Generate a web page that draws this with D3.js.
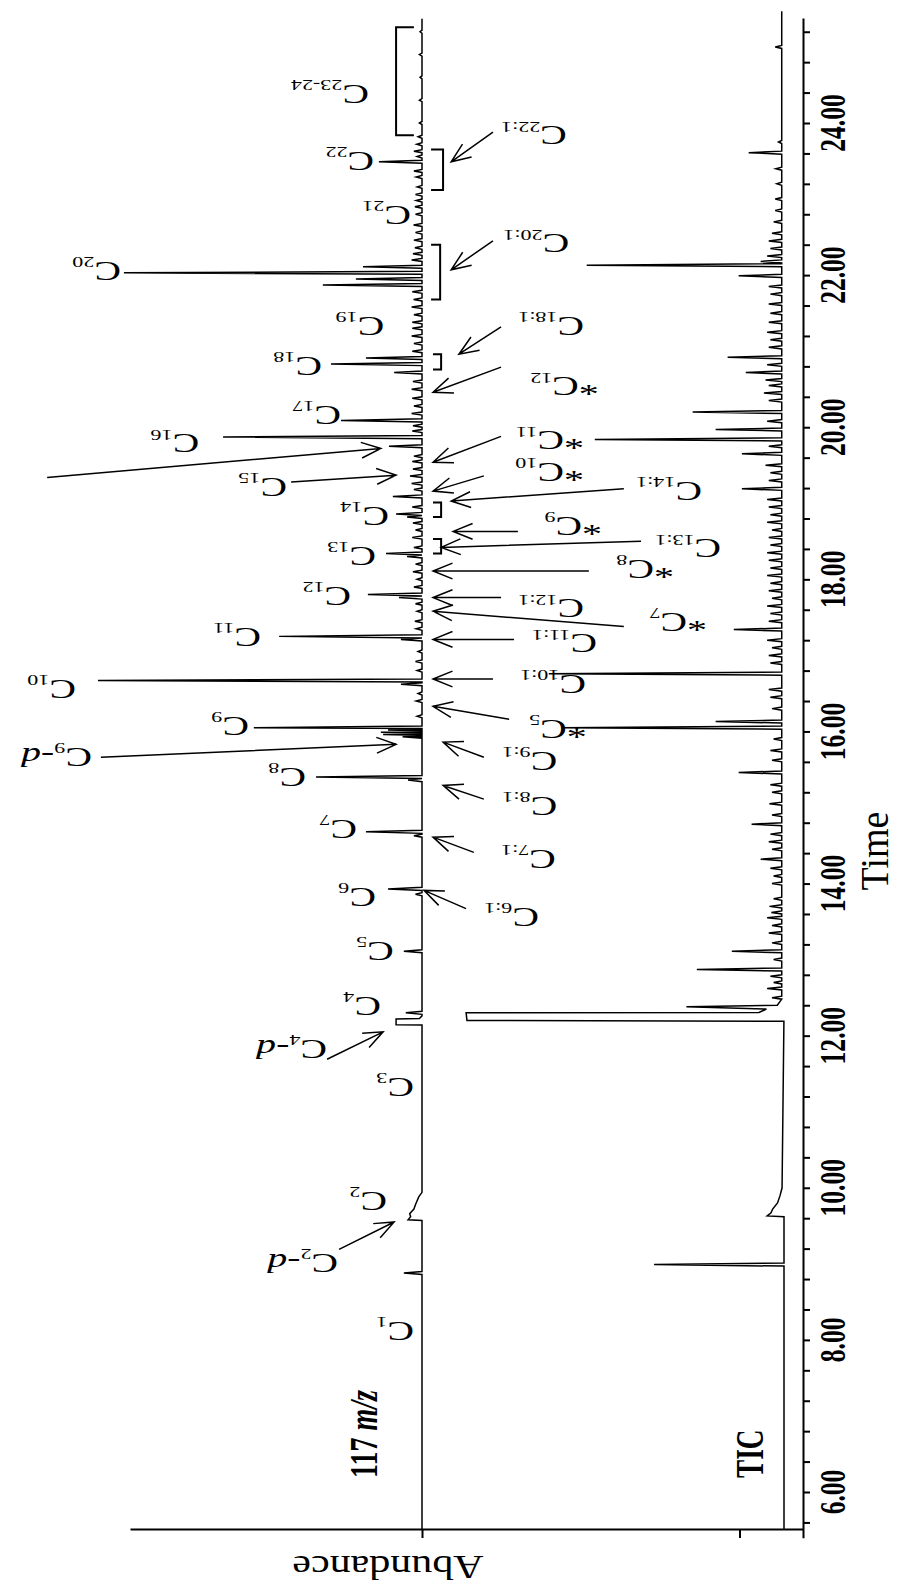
<!DOCTYPE html>
<html>
<head>
<meta charset="utf-8">
<script src="https://cdn.jsdelivr.net/npm/d3@7"></script>
<style>
body { margin: 0; background: #fff; }
svg { display: block; }
</style>
</head>
<body>
<svg id="svg" width="897" height="1587"></svg>
<script>
// peaks: [retention time (min), relative abundance]
const peaks117 = [
    [8.88, 5.6],
    [12.30, 5.0],
    [13.11, 5.6],
    [13.86, 2.0], [13.93, 10.5],
    [14.63, 2.5], [14.68, 17.3],
    [15.36, 4.3], [15.40, 32.7],
    [15.93, 6.0], [15.96, 12.0], [15.99, 12.7], [16.02, 10.5], [16.05, 51.9],
    [16.62, 6.5], [16.67, 100],
    [17.21, 6.5], [17.25, 44.1],
    [17.76, 7.1], [17.80, 16.7],
    [18.30, 4.6], [18.34, 11.1],
    [18.82, 4.6], [18.86, 8.0],
    [19.09, 9.0], [19.36, 3.7],
    [19.75, 10.2], [19.87, 61.4],
    [20.09, 25.0],
    [20.72, 8.6], [20.83, 28.1], [20.91, 17.3],
    [21.30, 3.0],
    [21.87, 30.6], [21.95, 20.4], [22.03, 92.0], [22.11, 18.2],
    [22.80, 2.0],
    [23.29, 1.8], [23.37, 2.5], [23.49, 13.3], [23.63, 2.5]
]
const noise117 = [
    [15.95, 1.2], [16.20, 1.5], [16.40, 1.8], [16.50, 1.2], [16.80, 1.5], [16.92, 2.0], [17.05, 1.2],
    [17.35, 1.8], [17.45, 2.2], [17.58, 1.5], [17.68, 2.0], [17.90, 2.5], [18.00, 1.5], [18.10, 2.8],
    [18.20, 2.0], [18.42, 2.5], [18.55, 3.0], [18.65, 2.0], [18.74, 2.8], [18.95, 3.0], [19.18, 2.5],
    [19.26, 3.2], [19.45, 2.8], [19.55, 3.0], [19.62, 2.5], [19.95, 3.0], [20.02, 2.8], [20.18, 3.2],
    [20.28, 2.5], [20.38, 3.0], [20.50, 3.2], [20.60, 2.8], [21.00, 3.0], [21.10, 2.5], [21.20, 3.2],
    [21.38, 3.0], [21.48, 2.5], [21.58, 3.2], [21.68, 2.6], [21.78, 3.0], [22.20, 3.2], [22.28, 2.8],
    [22.36, 2.2], [22.46, 2.5], [22.56, 2.0], [22.66, 2.6], [22.90, 2.2], [22.98, 1.8], [23.06, 2.0],
    [23.16, 1.5], [23.56, 1.5], [23.72, 1.6], [23.82, 1.2], [24.00, 0.8], [24.30, 0.8], [24.60, 0.6],
    [24.90, 0.8], [25.20, 0.6]
]
// flat-topped / broad features: points [time, abundance]
const shapes117 = [
    [[9.57, 0], [9.58, 4.3], [9.62, 3.5], [9.66, 3.8], [9.72, 2.5], [9.78, 2.0], [9.88, 1.0], [9.94, 0]],
    [[12.14, 0], [12.145, 8.0], [12.22, 8.0], [12.225, 0.8], [12.26, 0]]
]

const peaksTIC = [
    [8.99, 40.1],
    [12.87, 26.2], [13.11, 15.4],
    [14.32, 6.5], [14.78, 9.3], [15.46, 13.3],
    [16.05, 67.9], [16.13, 20.4],
    [16.76, 71.9], [17.34, 14.8],
    [19.19, 12.3], [19.65, 12.3], [19.84, 57.7], [19.97, 20.4], [20.20, 27.5],
    [20.72, 11.1], [20.92, 16.7],
    [21.99, 13.3], [22.13, 60.2], [22.18, 6.5],
    [23.61, 10.2], [25.00, 2.0]
]
const noiseTIC = [
    [12.50, 3.0], [12.62, 4.5], [12.70, 2.5], [12.78, 3.5], [13.00, 2.5], [13.22, 3.0], [13.35, 4.0],
    [13.45, 3.0], [13.55, 4.5], [13.62, 3.2], [13.70, 3.8], [13.80, 2.5], [14.00, 3.0], [14.10, 2.5],
    [14.20, 3.5], [14.45, 3.0], [14.55, 4.0], [14.65, 3.5], [14.90, 3.0], [15.05, 3.8], [15.20, 3.0],
    [15.30, 3.5], [15.62, 3.0], [15.75, 3.5], [15.90, 2.5], [16.30, 3.0], [16.45, 3.5], [16.55, 4.0],
    [16.90, 3.5], [17.00, 4.0], [17.10, 3.0], [17.20, 4.5], [17.45, 4.0], [17.55, 3.5], [17.65, 4.5],
    [17.75, 3.0], [17.85, 4.0], [17.95, 3.5], [18.05, 4.5], [18.15, 3.5], [18.25, 4.0], [18.35, 4.5],
    [18.45, 3.5], [18.55, 4.0], [18.65, 3.0], [18.75, 4.5], [18.85, 3.5], [18.95, 4.0], [19.05, 4.5],
    [19.30, 4.0], [19.40, 3.5], [19.50, 5.0], [19.75, 4.0], [20.08, 4.5], [20.35, 4.0], [20.45, 5.5],
    [20.55, 4.0], [20.62, 5.0], [20.82, 4.5], [21.05, 4.0], [21.15, 3.5], [21.25, 4.5], [21.38, 4.0],
    [21.50, 3.5], [21.62, 4.0], [21.75, 3.5], [21.85, 4.0], [22.25, 4.5], [22.35, 3.5], [22.45, 4.0],
    [22.55, 3.0], [22.70, 2.5], [22.85, 2.0], [23.00, 2.0], [23.20, 1.5], [23.40, 1.8], [23.75, 1.0]
]
const shapesTIC = [
    [[9.62, 0], [9.63, 5.2], [9.67, 4.0], [9.72, 3.5], [9.80, 2.0], [9.90, 1.2], [10.0, 0.6]],
    [[12.19, 0], [12.20, 97.8], [12.30, 97.8], [12.305, 7.4], [12.35, 5.0], [12.38, 29.6], [12.40, 1.5]]
]
const baselineTIC = [[5.5, 0], [7.95, 0], [8.15, 0.8], [8.45, 0.5], [8.6, 0], [12.18, 0], [12.45, 0.7], [25.5, 0.7]]
const baseline117 = [[5.5, 0], [25.5, 0]]

const timeLabels = [6, 8, 10, 12, 14, 16, 18, 20, 22, 24]
const minorTicks = d3.range(14, 64).map(i => i * 0.4)
const abundanceTicks = [0, -98]

// compound labels, placed in (time, abundance of the 117 m/z trace)
const labelsLeft = [
    { t: 8.11, a: 6.5, sub: '1' }, { t: 9.82, a: 14.8, sub: '2' }, { t: 9.01, a: 29.9, sub: '2', d: true },
    { t: 11.32, a: 6.5, sub: '3' }, { t: 11.82, a: 33.3, sub: '4', d: true }, { t: 12.38, a: 16.7, sub: '4' },
    { t: 13.11, a: 12.7, sub: '5' }, { t: 13.82, a: 18.2, sub: '6' }, { t: 14.71, a: 24.1, sub: '7' },
    { t: 15.40, a: 39.8, sub: '8' }, { t: 15.66, a: 105.9, sub: '9', d: true }, { t: 16.07, a: 57.4, sub: '9' },
    { t: 16.55, a: 110.8, sub: '10' }, { t: 17.24, a: 53.7, sub: '11' }, { t: 17.78, a: 25.9, sub: '12' },
    { t: 18.30, a: 18.2, sub: '13' }, { t: 18.83, a: 14.2, sub: '14' }, { t: 19.21, a: 45.7, sub: '15' },
    { t: 19.78, a: 72.8, sub: '16' }, { t: 20.15, a: 29.0, sub: '17' }, { t: 20.80, a: 34.9, sub: '18' },
    { t: 21.33, a: 15.7, sub: '19' }, { t: 22.05, a: 96.9, sub: '20' }, { t: 22.78, a: 7.4, sub: '21' },
    { t: 23.49, a: 18.8, sub: '22' }, { t: 24.38, a: 20.4, sub: '23-24' }
]
const labelsRight = [
    { t: 23.83, a: -40.7, sub: '22:1' }, { t: 22.41, a: -41.4, sub: '20:1' }, { t: 21.33, a: -46.0, sub: '18:1' },
    { t: 20.53, a: -44.4, sub: '12', star: true }, { t: 19.82, a: -39.8, sub: '11', star: true },
    { t: 19.41, a: -39.8, sub: '10', star: true }, { t: 19.16, a: -82.4, sub: '14:1' },
    { t: 18.70, a: -45.4, sub: '9', star: true }, { t: 18.40, a: -88.3, sub: '13:1' },
    { t: 18.13, a: -67.6, sub: '8', star: true }, { t: 17.61, a: -46.0, sub: '12:1' },
    { t: 17.43, a: -77.8, sub: '7', star: true }, { t: 17.15, a: -50.0, sub: '11:1' },
    { t: 16.62, a: -46.6, sub: '10:1' }, { t: 16.03, a: -40.7, sub: '5', star: true },
    { t: 15.61, a: -37.7, sub: '9:1' }, { t: 15.01, a: -37.7, sub: '8:1' }, { t: 14.32, a: -37.3, sub: '7:1' },
    { t: 13.55, a: -32.1, sub: '6:1' }
]
// arrows: [time tail, abundance tail, time head, abundance head]
const arrows = [
    [9.19, 25.6, 9.55, 8.6], [11.69, 29.3, 12.05, 12.0], [15.66, 99.1, 15.83, 8.0],
    [19.28, 40.4, 19.37, 8.0], [19.34, 115.7, 19.72, 12.7],
    [23.88, -21.9, 23.49, -9.0], [22.45, -21.9, 22.07, -9.0], [21.32, -24.4, 20.96, -11.4],
    [20.79, -24.4, 20.46, -3.4], [19.88, -24.4, 19.54, -3.4], [19.36, -19.1, 19.16, -3.4],
    [19.19, -62.3, 19.03, -9.0], [18.63, -29.6, 18.63, -9.6], [18.50, -67.6, 18.42, -5.9],
    [18.11, -51.5, 18.11, -3.4], [17.76, -24.4, 17.76, -3.4], [17.38, -62.3, 17.58, -3.4],
    [17.21, -28.4, 17.21, -3.4], [16.69, -21.9, 16.69, -3.4], [16.16, -26.9, 16.33, -3.4],
    [15.66, -19.1, 15.86, -6.5], [15.11, -19.1, 15.29, -6.5], [14.41, -16.0, 14.61, -3.4],
    [13.67, -13.6, 13.91, -0.6]
]
// brackets: [time start, time end, abundance of the bar, abundance of the arms]
const brackets = [
    [23.65, 23.12, -6.5, -2.8], [22.40, 21.68, -5.6, -2.8], [20.96, 20.76, -5.9, -3.4],
    [19.01, 18.82, -5.9, -3.4], [18.53, 18.34, -5.9, -3.4], [25.26, 23.84, 8.0, 2.5]
]

const svg = d3.select('#svg')
const serif = "'Liberation Serif', 'Times New Roman', serif"
const W = 0.02 // half width of a peak (min)

const pxPerMin = (1492 - 123) / 18
const y = d3.scaleLinear()
    .domain([5.4, 25.38])
    .range([1492 + 0.6 * pxPerMin, 1492 - 19.38 * pxPerMin])

const x117 = d3.scaleLinear().domain([0, 100]).range([422, 98])
const xTIC = d3.scaleLinear().domain([0, 100]).range([784, 460])

function trace(tRange, peaks, noise, shapes, knots) {
    const base = d3.scaleLinear()
        .domain(knots.map(d => d[0]))
        .range(knots.map(d => d[1]))
        .clamp(true)
    const pts = [[tRange[0], 0], [tRange[1], 0]]
    peaks.concat(noise).forEach(([t, a]) => pts.push([t - W, 0], [t, a], [t + W, 0]))
    shapes.forEach(s => s.forEach(p => pts.push(p)))
    pts.sort((p, q) => p[0] - q[0])
    return pts.map(([t, a]) => [t, a + base(t)])
}

const line117 = d3.line().x(d => x117(d[1])).y(d => y(d[0]))
const lineTIC = d3.line().x(d => xTIC(d[1])).y(d => y(d[0]))

svg.append('path')
    .attr('d', line117(trace([5.51, 25.37], peaks117, noise117, shapes117, baseline117)))
    .attr('fill', 'none').attr('stroke', '#000').attr('stroke-width', 1.5)

svg.append('path')
    .attr('d', lineTIC(trace([5.51, 25.47], peaksTIC, noiseTIC, shapesTIC, baselineTIC)))
    .attr('fill', 'none').attr('stroke', '#000').attr('stroke-width', 1.5)

// time axis on the right
const yAxis = d3.axisRight(y).tickValues(minorTicks).tickSize(7).tickSizeOuter(0).tickFormat('')
const gy = svg.append('g').attr('transform', 'translate(803, 0)').call(yAxis)
gy.selectAll('path, line').attr('stroke', '#000').attr('stroke-width', 2)

svg.append('g').selectAll('text')
    .data(timeLabels)
    .join('text')
    .attr('transform', d => `translate(845, ${y(d)}) scale(1, 0.73) rotate(-90)`)
    .attr('text-anchor', 'middle')
    .attr('font-family', serif).attr('font-weight', 'bold').attr('font-size', 35)
    .text(d => d.toFixed(2))

// abundance axis at the bottom
const xAb = d3.scaleLinear()
    .domain([x117.invert(130), x117.invert(803)])
    .range([130, 803])
const xAxis = d3.axisBottom(xAb).tickValues(abundanceTicks).tickSize(9).tickSizeOuter(0).tickFormat('')
const gx = svg.append('g').attr('transform', 'translate(0, 1529)').call(xAxis)
gx.selectAll('path, line').attr('stroke', '#000').attr('stroke-width', 2)

svg.append('text')
    .attr('transform', 'translate(388, 1556) scale(1, 0.82) rotate(180)')
    .attr('text-anchor', 'middle')
    .attr('font-family', serif).attr('font-size', 42)
    .text('Abundance')

svg.append('text')
    .attr('transform', 'translate(888, 851) scale(1, 0.95) rotate(-90)')
    .attr('text-anchor', 'middle')
    .attr('font-family', serif).attr('font-size', 40)
    .text('Time')

const mz = svg.append('text')
    .attr('transform', 'translate(377, 1478) scale(1, 0.7) rotate(-90)')
    .attr('font-family', serif).attr('font-weight', 'bold').attr('font-size', 40)
mz.append('tspan').text('117 ')
mz.append('tspan').attr('font-style', 'italic').text('m/z')

svg.append('text')
    .attr('transform', 'translate(763, 1478) scale(1, 0.7) rotate(-90)')
    .attr('font-family', serif).attr('font-weight', 'bold').attr('font-size', 39)
    .text('TIC')

// compound labels (upside down, like the rotated original)
function label(d) {
    const cx = x117(d.a) + 13 + (d.star ? 20 : 0)
    const cy = y(d.t) - 9.5
    const t = svg.append('text')
        .attr('transform', `translate(${cx}, ${cy}) scale(1, 0.7) rotate(180)`)
        .attr('font-family', serif).attr('font-size', 40)
    t.append('tspan').text((d.star ? '*' : '') + 'C')
    t.append('tspan').attr('font-size', 22).attr('dy', 7).text(d.sub)
    if (d.d) {
        t.append('tspan').attr('dy', -7).text('-')
        t.append('tspan').attr('font-style', 'italic').text('d')
    }
}
labelsLeft.forEach(label)
labelsRight.forEach(label)

const ann = svg.append('g').attr('fill', 'none').attr('stroke', '#000').attr('stroke-width', 1.5)

arrows.forEach(([t0, a0, t1, a1]) => {
    const x0 = x117(a0), y0 = y(t0), x1 = x117(a1), y1 = y(t1)
    const ang = Math.atan2(y0 - y1, x0 - x1)
    const len = 21, spread = 22 * Math.PI / 180
    const p1 = [x1 + len * Math.cos(ang + spread), y1 + len * Math.sin(ang + spread)]
    const p2 = [x1 + len * Math.cos(ang - spread), y1 + len * Math.sin(ang - spread)]
    ann.append('path')
        .attr('d', `M${x0},${y0}L${x1},${y1}M${p1[0]},${p1[1]}L${x1},${y1}L${p2[0]},${p2[1]}`)
})

brackets.forEach(([t0, t1, aBar, aArm]) => {
    ann.append('path')
        .attr('d', `M${x117(aArm)},${y(t0)}H${x117(aBar)}V${y(t1)}H${x117(aArm)}`)
        .attr('stroke-width', 2)
})
</script>
</body>
</html>
